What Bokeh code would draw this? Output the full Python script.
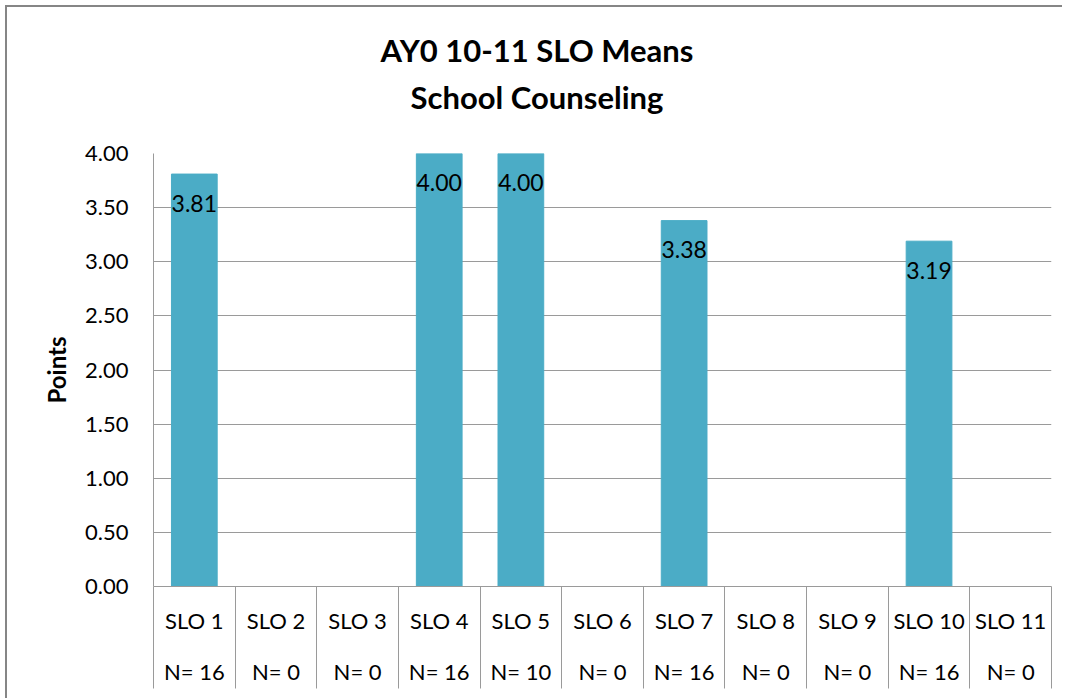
from bokeh.plotting import figure
from bokeh.layouts import column
from bokeh.models import FixedTicker, Range1d, LinearAxis
from bokeh.core.properties import value
from bokeh.embed import file_html
from bokeh.resources import INLINE

categories = ["SLO 1", "SLO 2", "SLO 3", "SLO 4", "SLO 5", "SLO 6",
              "SLO 7", "SLO 8", "SLO 9", "SLO 10", "SLO 11"]
means = [3.81, None, None, 4.00, 4.00, None, 3.38, None, None, 3.19, None]
counts = [16, 0, 0, 16, 10, 0, 16, 0, 0, 16, 0]
y_ticks = [0.0, 0.5, 1.0, 1.5, 2.0, 2.5, 3.0, 3.5, 4.0]
title_lines = ["AY0 10-11 SLO Means", "School Counseling"]

FONT = "Lato"
BAR = "#4BACC6"
GRID = "#9a9a9a"
BORDER = "#868686"
W = 1055
LEFT, RIGHT = 146, 11
FRAME_W = W - LEFT - RIGHT
HEAD_H = 131
BODY_TOP = 15
BODY_H = 560

xs = list(range(1, len(categories) + 1))
bar_x = [x for x, m in zip(xs, means) if m is not None]
bar_top = [m for m in means if m is not None]
bar_lbl = ["%.2f" % m for m in bar_top]

# ---- heading strip (pixel-unit ranges, same side borders as the chart) ----
head = figure(width=W, height=HEAD_H, output_backend="svg", toolbar_location=None,
              x_range=Range1d(0, FRAME_W), y_range=Range1d(0, HEAD_H),
              min_border_left=LEFT, min_border_right=RIGHT,
              min_border_top=0, min_border_bottom=0,
              x_axis_type=None, y_axis_type=None)
head.title = None
head.outline_line_color = None
head.grid.visible = False
head.background_fill_color = "white"
head.border_fill_color = "white"
title_cx = W / 2 + 2 - LEFT
head.text(x=[title_cx] * 2, y=[HEAD_H - 42, HEAD_H - 89], text=title_lines,
          text_align="center", text_baseline="middle", text_font=value(FONT),
          text_font_size="31px", text_font_style="bold", text_color="black")

# ---- chart ----
p = figure(width=W, height=BODY_H, output_backend="svg", toolbar_location=None,
           x_range=Range1d(0.5, len(categories) + 0.5), y_range=Range1d(0, 4),
           min_border_left=LEFT, min_border_right=RIGHT, min_border_top=BODY_TOP,
           min_border_bottom=112)
p.title = None
p.outline_line_color = None
p.background_fill_color = "white"
p.border_fill_color = "white"

p.vbar(x=bar_x, top=bar_top, width=0.56, color=BAR)
p.text(x=bar_x, y=bar_top, text=bar_lbl, text_align="center",
       text_baseline="middle", y_offset=29, text_font=value(FONT),
       text_font_size="23px", text_color="black")

# y axis
p.yaxis.ticker = FixedTicker(ticks=y_ticks)
p.yaxis.major_label_overrides = {v: "%.2f" % v for v in y_ticks}
p.yaxis.axis_line_color = GRID
p.yaxis.major_tick_line_color = None
p.yaxis.minor_tick_line_color = None
p.yaxis.major_label_text_font = FONT
p.yaxis.major_label_text_font_size = "22px"
p.yaxis.major_label_text_color = "black"
p.yaxis.major_label_standoff = 19
p.yaxis.axis_label = "Points"
p.yaxis.axis_label_text_font = FONT
p.yaxis.axis_label_text_font_size = "24px"
p.yaxis.axis_label_text_font_style = "bold"
p.yaxis.axis_label_text_color = "black"
p.yaxis.axis_label_standoff = 11

# x axis, row 1: category names + cell separators
xa = p.xaxis[0]
xa.ticker = FixedTicker(ticks=xs, minor_ticks=[x - 0.5 for x in xs] + [xs[-1] + 0.5])
xa.major_label_overrides = {x: c for x, c in zip(xs, categories)}
xa.axis_line_color = GRID
xa.major_tick_line_color = None
xa.major_tick_out = 0
xa.major_tick_in = 0
xa.minor_tick_line_color = GRID
xa.minor_tick_in = 0
xa.minor_tick_out = 102
xa.major_label_text_font = FONT
xa.major_label_text_font_size = "22px"
xa.major_label_text_color = "black"
xa.major_label_standoff = -82

# x axis, row 2: counts
xb = LinearAxis(ticker=FixedTicker(ticks=xs, minor_ticks=[]),
                major_label_overrides={x: "N= %d" % n for x, n in zip(xs, counts)})
xb.axis_line_color = None
xb.major_tick_line_color = None
xb.minor_tick_line_color = None
xb.major_tick_out = 0
xb.major_tick_in = 0
xb.major_label_text_font = FONT
xb.major_label_text_font_size = "22px"
xb.major_label_text_color = "black"
xb.major_label_standoff = 21
p.add_layout(xb, "below")

p.xgrid.grid_line_color = None
p.ygrid.ticker = FixedTicker(ticks=y_ticks)
p.ygrid.grid_line_color = GRID

layout = column(head, p, spacing=0,
                styles={"border-top": "2px solid " + BORDER, "border-left": "2px solid " + BORDER,
                        "margin-left": "5px", "margin-top": "5px"})

open("out.html", "w").write(file_html(layout, INLINE))
